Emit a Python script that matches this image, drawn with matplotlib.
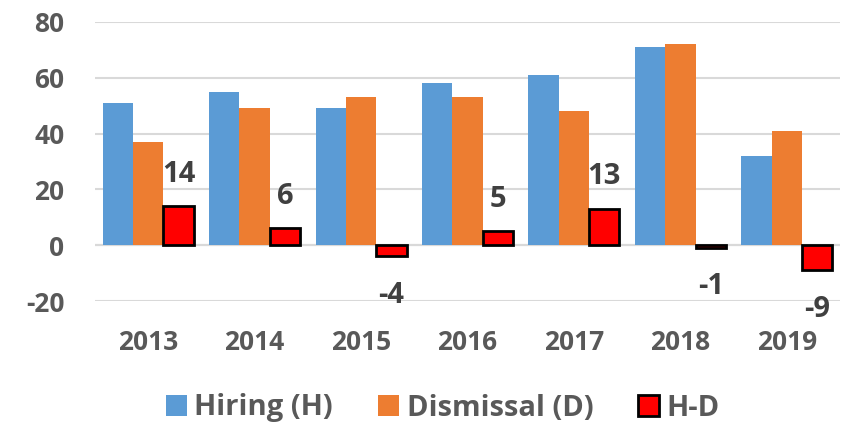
import matplotlib
matplotlib.use("Agg")
import matplotlib.pyplot as plt
import numpy as np

years = ["2013", "2014", "2015", "2016", "2017", "2018", "2019"]
hiring = [51, 55, 49, 58, 61, 71, 32]
dismissal = [37, 49, 53, 53, 48, 72, 41]
diff = [14, 6, -4, 5, 13, -1, -9]
y_ticks = [-20, 0, 20, 40, 60, 80]

plt.rcParams['font.family'] = ['Open Sans', 'DejaVu Sans']
plt.rcParams['font.weight'] = 'bold'
plt.rcParams['axes.unicode_minus'] = False
grey = '#595959'

fig = plt.figure(figsize=(8.45, 4.26), dpi=100)
ax = fig.add_axes([95/845, 1-301/426, 745/845, (301-22)/426])

x = np.arange(len(years))
w = 0.285
ax.bar(x - w, hiring, w, color='#5B9BD5', label='Hiring (H)', zorder=3)
ax.bar(x, dismissal, w, color='#ED7D31', label='Dismissal (D)', zorder=3)
ax.bar(x + w, diff, w, color='#FF0000', edgecolor='black', linewidth=2,
       label='H-D', zorder=3)

for xi, v in zip(x, diff):
    off = 23 if v >= 0 else -28
    ax.annotate(str(v), (xi + w, v), xytext=(0, off), textcoords='offset points',
                ha='center', va='center', fontsize=21, fontweight='bold', color='#404040')

ax.set_xlim(-0.5, len(years) - 0.5)
ax.set_ylim(-20, 80)
ax.set_yticks(y_ticks)
ax.set_xticks(x)
ax.set_xticklabels(years)
ax.grid(axis='y', color='#D9D9D9', linewidth=1.5, zorder=0)
ax.axhline(0, color='#D0D0D0', linewidth=1.5, zorder=1)
for s in ax.spines.values():
    s.set_visible(False)
ax.tick_params(axis='both', length=0, labelsize=19, labelcolor=grey)
ax.tick_params(axis='x', pad=20)
ax.tick_params(axis='y', pad=22)
for lab in ax.get_xticklabels() + ax.get_yticklabels():
    lab.set_fontweight('bold')

leg = fig.legend(loc='center', bbox_to_anchor=(443/845, 1-408/426), ncol=3, frameon=False,
                 fontsize=21, handlelength=0.72, handleheight=0.72, handletextpad=0.25,
                 columnspacing=1.55, labelcolor=grey)
for t in leg.get_texts():
    t.set_fontweight('bold')

fig.savefig('out.png', dpi=100)
